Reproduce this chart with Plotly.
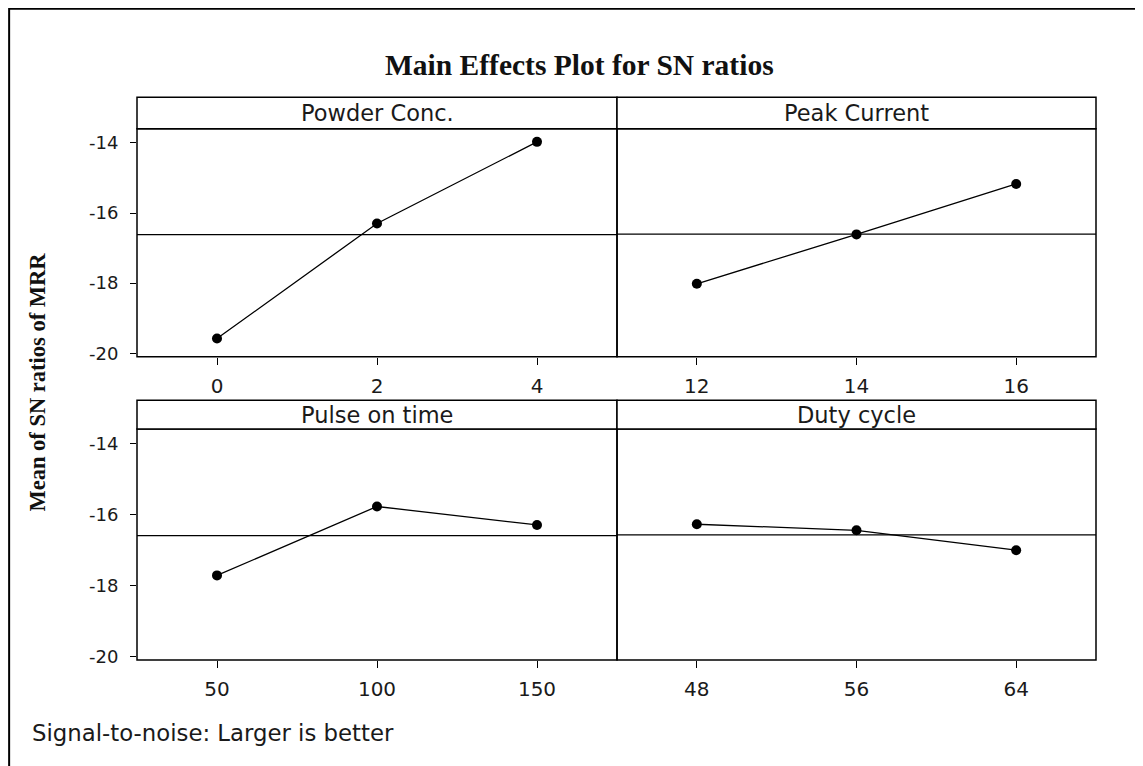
import plotly.graph_objects as go
import numpy as np

# ---- data ----
factors = ["Powder Conc.", "Peak Current", "Pulse on time", "Duty cycle"]
powder_levels = [0, 2, 4]
powder_sn = [-19.58, -16.30, -13.97]
peak_levels = [12, 14, 16]
peak_sn = [-18.02, -16.61, -15.17]
pulse_levels = [50, 100, 150]
pulse_sn = [-17.72, -15.78, -16.30]
duty_levels = [48, 56, 64]
duty_sn = [-16.28, -16.45, -17.01]
y_ticks = [-20, -18, -16, -14]

levels = [powder_levels, peak_levels, pulse_levels, duty_levels]
values = [powder_sn, peak_sn, pulse_sn, duty_sn]

# the page puts the figure 8px in from the top-left corner (body margin)
OFF = 8
W, H = 1143 - OFF, 766 - OFF
def px(x):
    return (x - OFF) / W
def py(y):
    return 1 - (y - OFF) / H

col_dom = [[px(137), px(617)], [px(617), px(1096)]]
row_dom = [[py(360), py(130)], [py(666), py(433)]]
strip = [[py(130), py(98)], [py(433), py(404)]]

TXT = "#1a1a1a"
fig = go.Figure()
layout = dict(
    width=W, height=H, margin=dict(l=0, r=0, t=0, b=0),
    paper_bgcolor="white", plot_bgcolor="white", showlegend=False,
)
shapes = []
annotations = []
for i in range(4):
    r, c = divmod(i, 2)
    n = i + 1
    xa = "xaxis" if n == 1 else f"xaxis{n}"
    ya = "yaxis" if n == 1 else f"yaxis{n}"
    xr = "x" if n == 1 else f"x{n}"
    yr = "y" if n == 1 else f"y{n}"
    lv = levels[i]
    step = lv[1] - lv[0]
    layout[xa] = dict(
        domain=col_dom[c], anchor=yr, range=[lv[0] - step / 2, lv[-1] + step / 2],
        tickvals=lv, ticktext=[str(v) for v in lv], ticks="outside", ticklen=7,
        tickwidth=1.2, tickcolor="black", showline=False, ticklabelstandoff=4,
        showgrid=False, zeroline=False,
        tickfont=dict(family="DejaVu Sans", size=20, color=TXT),
    )
    layout[ya] = dict(
        domain=row_dom[r], anchor=xr, range=[-20.1, -13.6],
        tickvals=y_ticks, ticktext=[str(v) for v in y_ticks],
        ticks="outside" if c == 0 else "", ticklen=6, tickwidth=1.2, tickcolor="black",
        showticklabels=(c == 0), showline=False, ticklabelstandoff=8,
        showgrid=False, zeroline=False,
        tickfont=dict(family="DejaVu Sans", size=18, color=TXT),
    )
    fig.add_trace(go.Scatter(
        x=lv, y=values[i], mode="lines+markers", xaxis=xr, yaxis=yr,
        line=dict(color="black", width=1.3),
        marker=dict(color="black", size=10),
    ))
    mean_val = float(np.mean(values[i]))
    shapes.append(dict(type="line", xref=f"{xr} domain", yref=yr, x0=0, x1=1,
                       y0=mean_val, y1=mean_val, line=dict(color="black", width=1.3)))
    # panel border
    shapes.append(dict(type="rect", xref=f"{xr} domain", yref=f"{yr} domain",
                       x0=0, x1=1, y0=0, y1=1, line=dict(color="black", width=1.5)))
    # strip
    shapes.append(dict(type="rect", xref="paper", yref="paper",
                       x0=col_dom[c][0], x1=col_dom[c][1], y0=strip[r][0], y1=strip[r][1],
                       line=dict(color="black", width=1.5), fillcolor="white"))
    annotations.append(dict(text=factors[i], xref="paper", yref="paper",
                            x=(col_dom[c][0] + col_dom[c][1]) / 2,
                            y=(strip[r][0] + strip[r][1]) / 2,
                            showarrow=False, xanchor="center", yanchor="middle",
                            font=dict(family="DejaVu Sans", size=22.5, color=TXT)))

# outer frame (top and left edges visible)
shapes.append(dict(type="rect", xref="paper", yref="paper", x0=0.001, x1=1.05,
                   y0=-0.05, y1=0.999, line=dict(color="black", width=2)))

annotations.append(dict(text="<b>Main Effects Plot for SN ratios</b>", xref="paper", yref="paper",
                        x=px(579), y=py(66), showarrow=False, xanchor="center", yanchor="middle",
                        font=dict(family="Liberation Serif", size=29.5, color="#111")))
annotations.append(dict(text="<b>Mean of SN ratios of MRR</b>", xref="paper", yref="paper",
                        x=px(38), y=py(386), showarrow=False, textangle=-90,
                        xanchor="center", yanchor="middle",
                        font=dict(family="Liberation Serif", size=22.5, color="#111")))
annotations.append(dict(text="Signal-to-noise: Larger is better", xref="paper", yref="paper",
                        x=px(30), y=py(740), showarrow=False, xanchor="left", yanchor="middle",
                        font=dict(family="DejaVu Sans", size=22.8, color=TXT)))

layout["shapes"] = shapes
layout["annotations"] = annotations
fig.update_layout(**layout)
fig.write_html("out.html")
